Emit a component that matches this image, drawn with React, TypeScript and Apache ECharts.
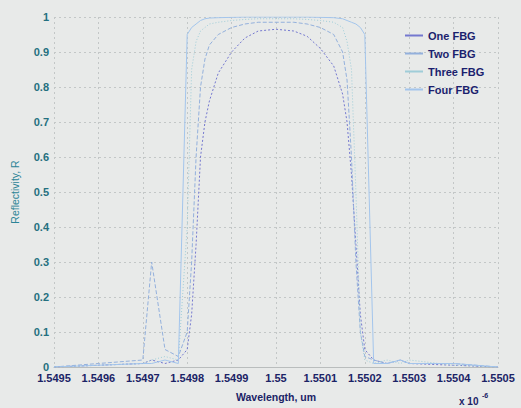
import React, { useEffect, useRef } from "react";
import * as echarts from "echarts";

// Wavelength samples, in micrometres
const wavelength = [
  1.5495, 1.5496, 1.5497, 1.54972, 1.54975, 1.54978, 1.5498, 1.54981, 1.54982,
  1.54983, 1.54984, 1.54985, 1.54987, 1.5499, 1.54993, 1.54996, 1.55, 1.55004,
  1.55007, 1.5501, 1.55013, 1.55015, 1.55016, 1.55017, 1.55018, 1.55019, 1.5502,
  1.55022, 1.55025, 1.55028, 1.5503, 1.5504, 1.5505,
];

const seriesNames = ["One FBG", "Two FBG", "Three FBG", "Four FBG"];

const oneFBG = [
  0, 0.005, 0.01, 0.02, 0.01, 0.02, 0.05, 0.15, 0.35, 0.6, 0.7, 0.76, 0.84, 0.9,
  0.94, 0.96, 0.965, 0.96, 0.945, 0.91, 0.86, 0.78, 0.7, 0.55, 0.35, 0.15, 0.05,
  0.02, 0.01, 0.02, 0.01, 0.005, 0,
];
const twoFBG = [
  0, 0.01, 0.02, 0.3, 0.05, 0.03, 0.1, 0.3, 0.6, 0.8, 0.88, 0.92, 0.95, 0.97,
  0.98, 0.985, 0.985, 0.985, 0.98, 0.97, 0.95, 0.9, 0.82, 0.6, 0.3, 0.1, 0.03,
  0.02, 0.01, 0.02, 0.01, 0.01, 0,
];
const threeFBG = [
  0, 0.005, 0.01, 0.02, 0.03, 0.02, 0.4, 0.85, 0.93, 0.96, 0.97, 0.98, 0.985,
  0.99, 0.993, 0.995, 0.995, 0.995, 0.993, 0.99, 0.985, 0.97, 0.93, 0.85, 0.5,
  0.1, 0.02, 0.01, 0.02, 0.01, 0.02, 0.005, 0,
];
const fourFBG = [
  0, 0.005, 0.01, 0.01, 0.02, 0.01, 0.95, 0.97, 0.98, 0.99, 0.995, 0.997, 0.998,
  0.999, 1, 1, 1, 1, 1, 0.999, 0.998, 0.995, 0.99, 0.985, 0.98, 0.97, 0.95,
  0.01, 0.01, 0.02, 0.01, 0.01, 0,
];

const reflectivity = [oneFBG, twoFBG, threeFBG, fourFBG];
const colors = ["#7478cf", "#93b0dc", "#9fcdd8", "#a3c5ec"];
const lineTypes: any[] = [[2, 2], [4, 2], [1, 2], "solid"];

const xTickValues = [
  15495, 15496, 15497, 15498, 15499, 15500, 15501, 15502, 15503, 15504, 15505,
];

export default function App() {
  const ref = useRef<HTMLDivElement>(null);
  useEffect(() => {
    if (!ref.current) return;
    const chart = echarts.init(ref.current, null, { renderer: "svg" });
    const font = "Liberation Sans, Arial, sans-serif";
    chart.setOption({
      animation: false,
      backgroundColor: "#e8eae9",
      grid: { left: 54, right: 23, top: 17, bottom: 41, containLabel: false },
      legend: {
        orient: "vertical",
        left: 400,
        top: 25,
        itemGap: 7,
        itemWidth: 18,
        itemHeight: 2,
        icon: "rect",
        data: seriesNames,
        textStyle: {
          color: "#1b1f6e",
          fontFamily: font,
          fontSize: 11,
          fontWeight: "bold",
        },
      },
      xAxis: {
        type: "value",
        min: xTickValues[0],
        max: xTickValues[xTickValues.length - 1],
        interval: 1,
        name: "Wavelength, um",
        nameLocation: "middle",
        nameGap: 24,
        nameTextStyle: {
          color: "#1b2366",
          fontFamily: font,
          fontSize: 10.5,
          fontWeight: "bold",
        },
        axisLine: { show: true, lineStyle: { color: "#b9bdbd", width: 1 } },
        axisTick: { show: false },
        axisLabel: {
          interval: 0,
          margin: 5,
          color: "#1b2366",
          fontFamily: font,
          fontSize: 11,
          fontWeight: "bold",
          formatter: (v: number) => String(v / 10000),
        },
        splitLine: {
          show: true,
          lineStyle: { color: "#c3c7c7", type: [2, 3], width: 1 },
        },
      },
      yAxis: {
        type: "value",
        min: 0,
        max: 1,
        interval: 0.1,
        name: "Reflectivity, R",
        nameLocation: "middle",
        nameGap: 34,
        nameTextStyle: {
          color: "#2b8496",
          fontFamily: font,
          fontSize: 10.5,
        },
        axisLine: { show: false },
        axisTick: { show: false },
        axisLabel: {
          margin: 5,
          color: "#24707f",
          fontFamily: font,
          fontSize: 11,
          fontWeight: "bold",
          formatter: (v: number) => String(Math.round(v * 10) / 10),
        },
        splitLine: {
          show: true,
          lineStyle: { color: "#c3c7c7", type: [2, 3], width: 1 },
        },
      },
      graphic: [
        {
          type: "text",
          left: 459,
          top: 396,
          style: {
            text: "x 10",
            fill: "#1b2366",
            font: "bold 10px Liberation Sans, Arial, sans-serif",
          },
        },
        {
          type: "text",
          left: 482,
          top: 392,
          style: {
            text: "-6",
            fill: "#1b2366",
            font: "bold 7px Liberation Sans, Arial, sans-serif",
          },
        },
      ],
      series: seriesNames.map((name, i) => ({
        name,
        type: "line",
        showSymbol: false,
        symbol: "none",
        smooth: false,
        color: colors[i],
        lineStyle: { color: colors[i], width: 1, type: lineTypes[i] },
        data: wavelength.map((w, k) => [w * 10000, reflectivity[i][k]]),
      })),
    });
    return () => chart.dispose();
  }, []);
  return (
    <div
      ref={ref}
      style={{ position: "fixed", left: 0, top: 0, width: 521, height: 408 }}
    />
  );
}
